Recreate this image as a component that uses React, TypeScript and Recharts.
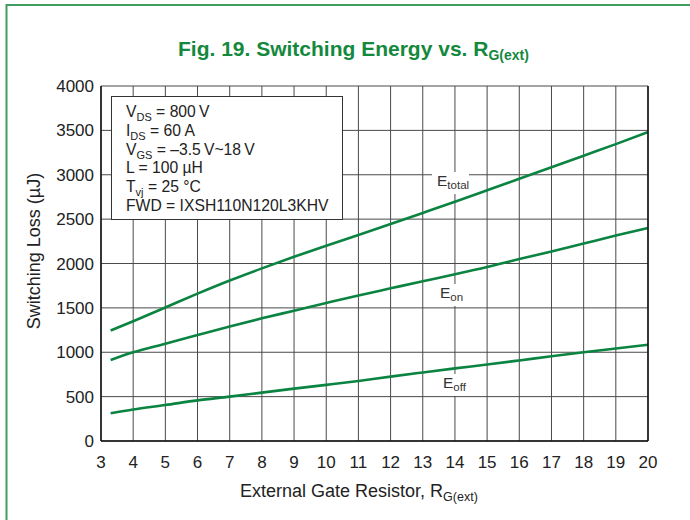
import { CartesianGrid, Line, LineChart, XAxis, YAxis } from "recharts";

// gate resistor (ohm) and switching energies (uJ)
const rg = [3.3, 4, 5, 6, 7, 8, 9, 10, 11, 12, 13, 14, 15, 16, 17, 18, 19, 20];
const eTotal = [1245, 1350, 1505, 1660, 1808, 1945, 2075, 2200, 2322, 2445, 2570, 2696, 2825, 2955, 3085, 3215, 3345, 3480];
const eOn = [913, 1000, 1097, 1194, 1290, 1382, 1468, 1555, 1640, 1720, 1800, 1878, 1960, 2050, 2135, 2225, 2315, 2400];
const eOff = [312, 355, 405, 458, 500, 545, 590, 632, 676, 725, 772, 818, 862, 908, 955, 1000, 1043, 1085];

const xTicks = [3, 4, 5, 6, 7, 8, 9, 10, 11, 12, 13, 14, 15, 16, 17, 18, 19, 20];
const yTicks = [0, 500, 1000, 1500, 2000, 2500, 3000, 3500, 4000];

const conditions: [string, string, string][] = [
  ["V", "DS", " = 800\u2009V"],
  ["I", "DS", " = 60 A"],
  ["V", "GS", " = \u20133.5\u2009V~18\u2009V"],
  ["L = 100 \u00b5H", "", ""],
  ["T", "vj", " = 25 \u00b0C"],
  ["FWD = IXSH110N120L3KHV", "", ""],
];

const data = rg.map((r, i) => ({ r, total: eTotal[i], on: eOn[i], off: eOff[i] }));

const GREEN = "#0b8442";
const FONT = "'Liberation Sans', Arial, sans-serif";
const tick = { fill: "#222", fontSize: 17, fontFamily: FONT };

function Sub({ main, sub, rest, x, y, size, subSize }: any) {
  return (
    <text x={x} y={y} fontSize={size} fontFamily={FONT} fill="#222">
      {main}
      {sub && (
        <tspan fontSize={subSize} dy={4}>
          {sub}
        </tspan>
      )}
      {rest && <tspan dy={sub ? -4 : 0}>{rest}</tspan>}
    </text>
  );
}

function CurveTag({ x, y, sub, w }: { x: number; y: number; sub: string; w: number }) {
  return (
    <g>
      <rect x={x - 5} y={y - 14} width={w} height={22} fill="#fff" />
      <text x={x} y={y} fontSize={15.5} fontFamily={FONT} fill="#333">
        E
        <tspan fontSize={11.5} dy={3}>
          {sub}
        </tspan>
      </text>
    </g>
  );
}

export default function App() {
  return (
    <div style={{ position: "absolute", left: 0, top: 0, width: 690, height: 520, background: "#fff" }}>
      <LineChart width={690} height={520} data={data} margin={{ top: 86, right: 42, bottom: 39, left: 41 }}>
        <CartesianGrid stroke="#4a4a4a" strokeWidth={1} />
        <XAxis
          dataKey="r"
          type="number"
          domain={[3, 20]}
          ticks={xTicks}
          interval={0}
          height={40}
          tickLine={false}
          tickSize={0}
          tickMargin={15}
          axisLine={{ stroke: "#111", strokeWidth: 1.5 }}
          tick={tick}
        />
        <YAxis
          type="number"
          domain={[0, 4000]}
          ticks={yTicks}
          interval={0}
          width={60}
          tickLine={false}
          tickSize={0}
          tickMargin={7}
          axisLine={{ stroke: "#111", strokeWidth: 1.5 }}
          tick={tick}
        />
        <Line dataKey="total" type="monotone" stroke={GREEN} strokeWidth={2.6} dot={false} isAnimationActive={false} />
        <Line dataKey="on" type="monotone" stroke={GREEN} strokeWidth={2.6} dot={false} isAnimationActive={false} />
        <Line dataKey="off" type="monotone" stroke={GREEN} strokeWidth={2.6} dot={false} isAnimationActive={false} />
      </LineChart>

      <svg width={690} height={520} style={{ position: "absolute", left: 0, top: 0, pointerEvents: "none" }}>
        <path d="M6.5,520 V5 H690" fill="none" stroke="#3f9d5f" strokeWidth={2} />
        <line x1={648} y1={86} x2={648} y2={441} stroke="#111" strokeWidth={1.5} />

        <text x={178} y={56} fontSize={21} fontWeight="bold" fontFamily={FONT} fill="#14893d">
          Fig. 19. Switching Energy vs. R
          <tspan fontSize={14} dy={4}>
            G(ext)
          </tspan>
        </text>

        <text
          x={0}
          y={0}
          transform="translate(40,251) rotate(-90)"
          textAnchor="middle"
          fontSize={18}
          fontFamily={FONT}
          fill="#222"
        >
          Switching Loss (µJ)
        </text>
        <text x={240} y={497} fontSize={18} fontFamily={FONT} fill="#222">
          External Gate Resistor, R
          <tspan fontSize={12.5} dy={4}>
            G(ext)
          </tspan>
        </text>

        <rect x={111.5} y={96.5} width={231} height={123} fill="#fff" stroke="#333" strokeWidth={1} />
        {conditions.map(([m, s, r], i) => (
          <Sub key={i} main={m} sub={s} rest={r} x={126} y={117 + i * 18.8} size={15.7} subSize={11} />
        ))}

        <CurveTag x={437} y={186} sub="total" w={37} />
        <CurveTag x={440} y={298} sub="on" w={29} />
        <CurveTag x={443} y={388} sub="off" w={30} />
      </svg>
    </div>
  );
}
